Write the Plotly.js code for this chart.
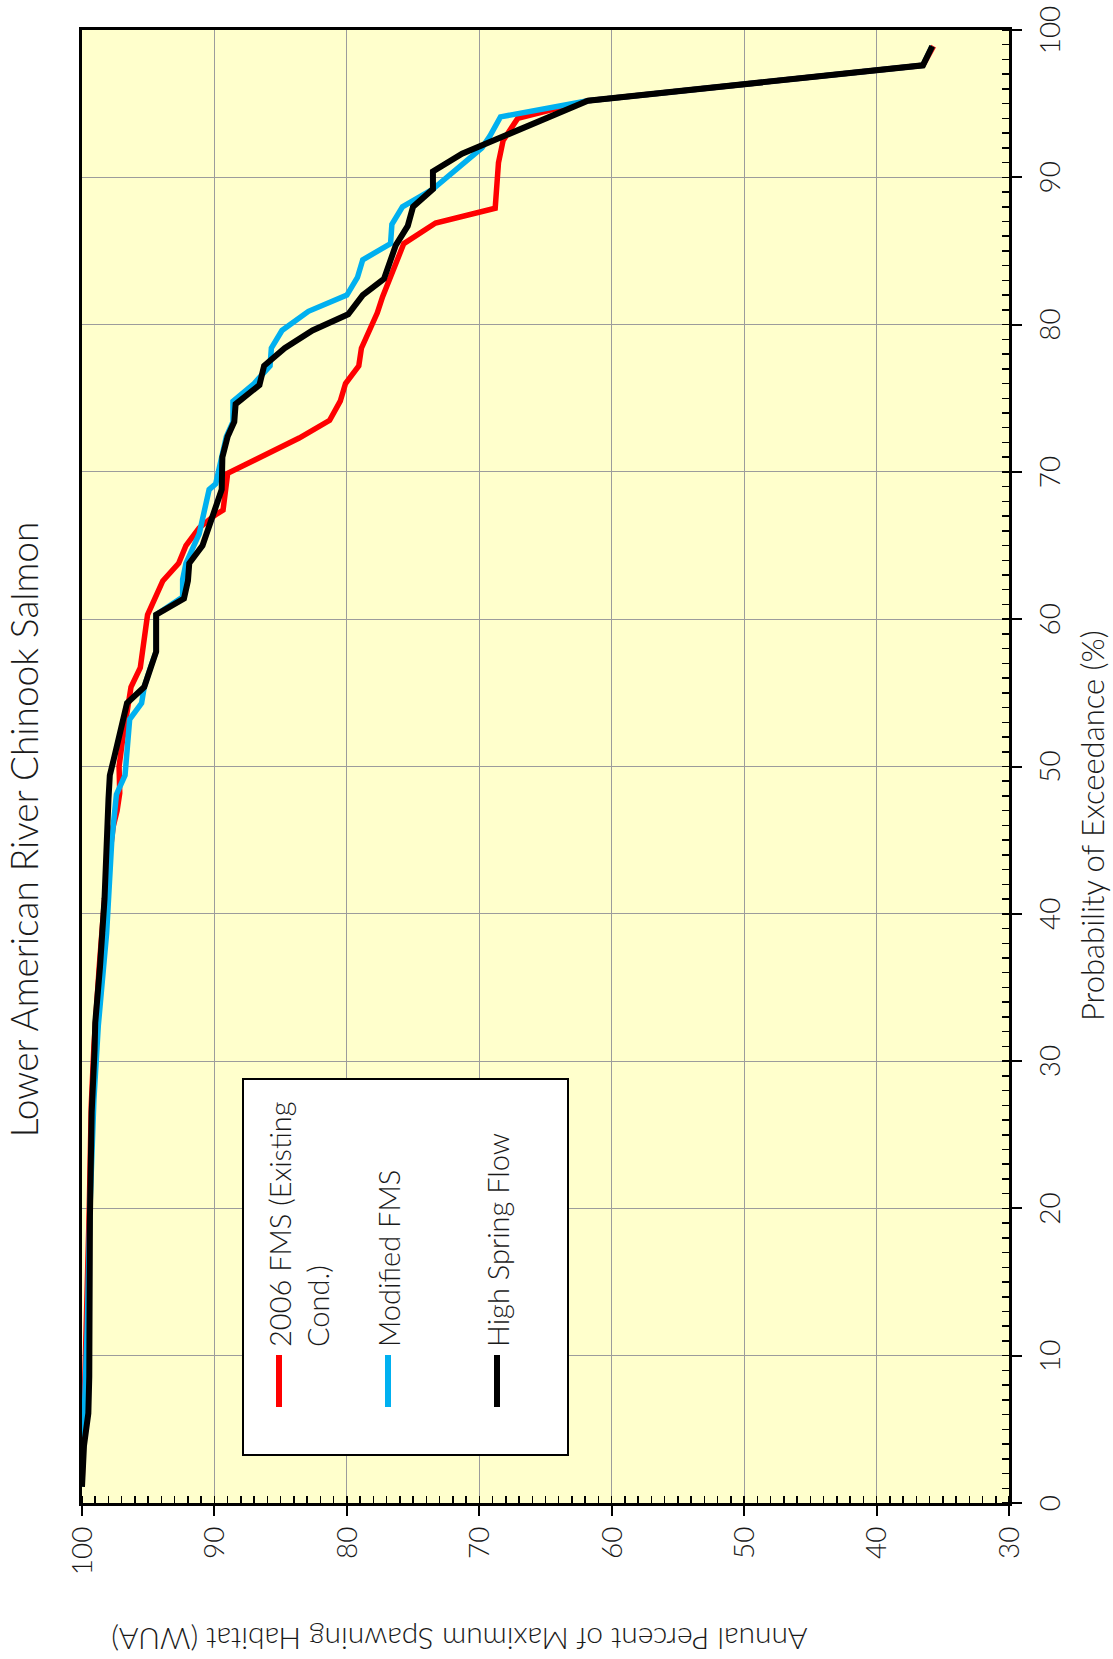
<!DOCTYPE html>
<html>
<head>
<meta charset="utf-8">
<script src="https://cdn.plot.ly/plotly-3.0.1.min.js"></script>
<style>
  html, body { margin: 0; padding: 0; background: #fff; overflow: hidden; width: 1113px; height: 1659px; }
  /* The chart is laid out landscape and turned a quarter turn counter-clockwise onto the portrait page */
  #chart { position: absolute; left: 0; top: 0; width: 1659px; height: 1113px;
           transform-origin: 0 0; transform: translateY(1659px) rotate(-90deg); }
</style>
</head>
<body>
<div id="chart"></div>
<script>
// Probability of exceedance (%) and annual percent of maximum spawning habitat (WUA)
const fms2006X = [1.1, 4.5, 8.0, 12.0, 20.0, 27.0, 31.0, 36.4, 41.0, 45.9, 47.0, 48.2, 50.0, 51.7, 54.3, 55.4, 56.7, 58.0, 60.3, 62.6, 63.8, 65.0, 66.2, 67.1, 67.4, 69.9, 71.0, 72.3, 73.5, 74.8, 76.0, 77.2, 78.4, 80.8, 81.9, 83.3, 85.5, 86.9, 87.9, 91.0, 92.5, 94.0, 95.2, 97.6, 98.9];
const fms2006Y = [100, 99.9, 99.7, 99.6, 99.45, 99.3, 99.1, 98.7, 98.3, 97.65, 97.35, 97.15, 97.2, 96.95, 96.45, 96.3, 95.6, 95.4, 95.05, 93.9, 92.7, 92.15, 91.15, 89.9, 89.35, 89.0, 86.6, 83.6, 81.3, 80.5, 80.1, 79.1, 78.9, 77.7, 77.3, 76.7, 75.7, 73.3, 68.8, 68.55, 68.2, 67.1, 61.8, 36.5, 35.7];

const modifiedX = [1.1, 4.5, 6.8, 12.0, 20.0, 27.4, 32.4, 38.7, 45.0, 48.1, 49.4, 53.2, 54.3, 55.4, 56.8, 57.8, 60.3, 61.5, 62.7, 63.8, 65.8, 67.4, 68.8, 69.2, 71.0, 72.4, 73.4, 74.8, 76.0, 77.2, 78.4, 79.6, 80.9, 82.0, 83.2, 84.4, 85.5, 86.8, 88.0, 89.2, 92.0, 92.8, 94.1, 95.2, 97.6, 98.9];
const modifiedY = [100, 99.95, 99.8, 99.6, 99.4, 99.1, 98.77, 98.14, 97.75, 97.4, 96.75, 96.4, 95.5, 95.3, 94.8, 94.4, 94.4, 92.4, 92.4, 92.15, 91.15, 90.8, 90.4, 89.9, 89.5, 89.1, 88.6, 88.6, 87.0, 85.8, 85.7, 84.9, 82.9, 80.0, 79.2, 78.8, 76.7, 76.6, 75.8, 73.5, 69.8, 69.2, 68.4, 61.8, 36.5, 35.8];

const highSpringX = [1.1, 3.9, 6.1, 8.6, 19.5, 26.5, 30.8, 32.6, 36.4, 41.0, 47.8, 49.4, 50.5, 51.7, 54.3, 55.4, 56.8, 57.8, 60.3, 61.4, 62.6, 63.8, 65.0, 67.3, 68.8, 71.0, 72.4, 73.4, 74.6, 75.9, 77.2, 78.4, 79.6, 80.7, 82.0, 83.1, 85.4, 86.7, 88.0, 89.2, 90.4, 91.6, 95.2, 97.6, 98.9];
const highSpringY = [100, 99.85, 99.52, 99.45, 99.4, 99.27, 99.05, 99.0, 98.64, 98.3, 98.0, 97.9, 97.6, 97.25, 96.6, 95.3, 94.8, 94.4, 94.4, 92.3, 92.0, 91.9, 90.9, 89.95, 89.45, 89.4, 89.0, 88.5, 88.4, 86.6, 86.25, 84.7, 82.6, 79.9, 78.8, 77.2, 76.3, 75.4, 75.0, 73.5, 73.5, 71.3, 61.8, 36.5, 35.8];

const seriesNames = ['2006 FMS (Existing<br>Cond.)', 'Modified FMS', 'High Spring Flow'];
const seriesColors = ['#ff0000', '#00b0f0', '#000000'];

const xTickVals = [0, 10, 20, 30, 40, 50, 60, 70, 80, 90, 100];
const yTickVals = [30, 40, 50, 60, 70, 80, 90, 100];

const chartTitle = 'Lower American River Chinook Salmon';
const xTitle = 'Probability of Exceedance (%)';
const yTitle = 'Annual Percent of Maximum Spawning Habitat (WUA)';

// Landscape canvas geometry
const W = 1659, H = 1113;
const M = { l: 156, r: 30, t: 82, b: 104 };
const px2x = (v) => (v - M.l) / (W - M.l - M.r);
const px2y = (v) => 1 - (v - M.t) / (H - M.t - M.b);

const FONT = 'Lato, "Open Sans", "DejaVu Sans", sans-serif';
const TXT = '#1a1a1a';

const xs = [fms2006X, modifiedX, highSpringX];
const ys = [fms2006Y, modifiedY, highSpringY];
const widths = [5.5, 5.5, 6];

const traces = xs.map((x, i) => ({
  type: 'scatter', mode: 'lines', x: x, y: ys[i],
  name: seriesNames[i], showlegend: false,
  line: { color: seriesColors[i], width: widths[i] },
  hoverinfo: 'skip'
}));

// Legend box drawn in paper space
const box = { x0: 204, x1: 580, y0: 243, y1: 568 };
const itemY = [279, 388, 497];
const symX0 = 252, symX1 = 304, textX = 310;

const shapes = [{
  type: 'rect', xref: 'paper', yref: 'paper', layer: 'above',
  x0: px2x(box.x0), x1: px2x(box.x1), y0: px2y(box.y1), y1: px2y(box.y0),
  fillcolor: '#ffffff', line: { color: '#000', width: 2 }
}];
const annotations = [];
seriesNames.forEach((nm, i) => {
  shapes.push({
    type: 'line', xref: 'paper', yref: 'paper', layer: 'above',
    x0: px2x(symX0), x1: px2x(symX1), y0: px2y(itemY[i]), y1: px2y(itemY[i]),
    line: { color: seriesColors[i], width: 6 }
  });
  const multi = nm.indexOf('<br>') >= 0;
  annotations.push({
    xref: 'paper', yref: 'paper', x: px2x(textX), y: px2y(multi ? itemY[i] - 19 : itemY[i]),
    xanchor: 'left', yanchor: multi ? 'top' : 'middle', align: 'left', showarrow: false,
    text: nm, font: { family: FONT, size: 29, weight: 300, color: TXT }
  });
});

annotations.push({
  xref: 'paper', yref: 'paper', x: px2x(833), y: px2y(1092),
  xanchor: 'center', yanchor: 'middle', showarrow: false,
  text: xTitle, font: { family: FONT, size: 31, weight: 300, color: TXT }
});
annotations.push({
  xref: 'paper', yref: 'paper', x: px2x(20), y: px2y(459.5),
  xanchor: 'center', yanchor: 'middle', showarrow: false, textangle: -90,
  text: yTitle, font: { family: FONT, size: 30, weight: 300, color: TXT }
});

const axisCommon = {
  showgrid: true, gridcolor: '#9c9c9c', gridwidth: 1,
  showline: true, linecolor: '#000', linewidth: 3, mirror: true,
  ticks: 'outside', ticklen: 10, tickwidth: 2, tickcolor: '#000',
  zeroline: false, fixedrange: true,
  tickfont: { family: FONT, size: 28, weight: 300, color: TXT },
  minor: { dtick: 1, ticks: 'inside', ticklen: 7, tickwidth: 1.5, tickcolor: '#000', showgrid: false }
};

const layout = {
  width: W, height: H,
  margin: M,
  paper_bgcolor: '#ffffff', plot_bgcolor: '#ffffcc',
  title: {
    text: chartTitle, x: 0.5, xref: 'container', xanchor: 'center',
    y: 1 - 25 / H, yref: 'container', yanchor: 'middle',
    font: { family: FONT, size: 37, weight: 300, color: TXT }
  },
  xaxis: Object.assign({}, axisCommon, {
    range: [0, 100], tickvals: xTickVals, ticktext: xTickVals.map(String),
    ticklabelstandoff: 4
  }),
  yaxis: Object.assign({}, axisCommon, {
    range: [30, 100], tickvals: yTickVals, ticktext: yTickVals.map(String),
    ticklabelstandoff: 5
  }),
  shapes: shapes,
  annotations: annotations,
  showlegend: false
};

Plotly.newPlot('chart', traces, layout, { displayModeBar: false, staticPlot: true });
</script>
</body>
</html>
